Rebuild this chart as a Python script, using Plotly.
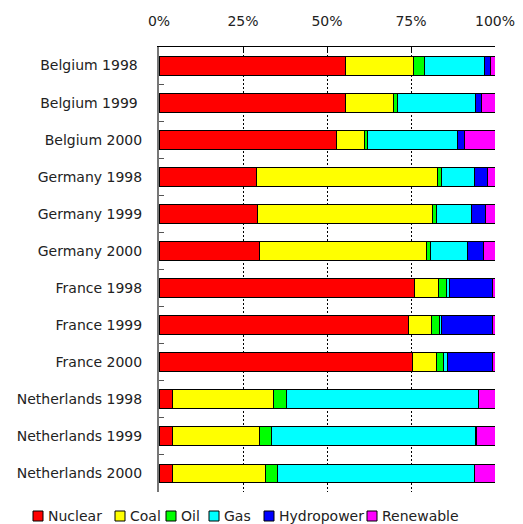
import plotly.graph_objects as go

categories = ["Belgium 1998", "Belgium 1999", "Belgium 2000",
              "Germany 1998", "Germany 1999", "Germany 2000",
              "France 1998", "France 1999", "France 2000",
              "Netherlands 1998", "Netherlands 1999", "Netherlands 2000"]
category_labels = ["Belgium 1998\u00a0", "Belgium 1999\u00a0", "Belgium 2000",
                   "Germany 1998", "Germany 1999", "Germany 2000",
                   "France 1998", "France 1999", "France 2000",
                   "Netherlands 1998", "Netherlands 1999", "Netherlands 2000"]

nuclear = [55.5, 55.5, 52.9, 29.1, 29.4, 29.8, 75.9, 74.4, 75.5, 4.1, 4.0, 4.1]
coal = [20.2, 14.2, 8.2, 53.7, 52.1, 49.9, 7.3, 6.8, 7.1, 30.0, 26.0, 27.7]
oil = [3.3, 1.2, 0.9, 1.3, 1.2, 1.1, 2.4, 2.3, 2.1, 3.9, 3.4, 3.4]
gas = [17.8, 23.4, 26.8, 9.7, 10.3, 11.1, 0.8, 0.7, 1.1, 57.0, 60.9, 58.7]
hydropower = [2.0, 1.8, 2.0, 4.0, 4.1, 4.7, 13.0, 15.2, 13.6, 0.1, 0.1, 0.1]
renewable = [1.2, 4.0, 9.2, 2.2, 2.9, 3.4, 0.6, 0.6, 0.6, 5.0, 5.7, 6.1]

series_names = ["Nuclear", "Coal", "Oil", "Gas", "Hydropower", "Renewable"]
series_values = [nuclear, coal, oil, gas, hydropower, renewable]
series_colors = ["#FF0000", "#FFFF00", "#00FF00", "#00FFFF", "#0000FF", "#FF00FF"]

tick_vals = [0, 25, 50, 75, 100]
tick_text = ["0%", "25%", "50%", "75%", "100%"]

FONT = "DejaVu Sans"

# the page body adds an 8px offset, so the figure is sized to fit the window
OFF = 8
FIG_W, FIG_H = 523 - OFF, 524 - OFF
M_L, M_R, M_T, M_B = 159 - OFF, 28, 47 - OFF, 32
plot_w = FIG_W - M_L - M_R
plot_h = FIG_H - M_T - M_B

fig = go.Figure()
for name, vals, col in zip(series_names, series_values, series_colors):
    fig.add_trace(go.Bar(
        y=categories, x=vals, name=name, orientation="h",
        marker=dict(color=col, line=dict(color="black", width=1)),
        showlegend=False,
    ))

# compact horizontal legend below the plot (page pixel positions)
legend_px = [33, 115, 166, 209, 264, 367]
legend_y = 516


def px_to_paper_x(px):
    return (px - OFF - M_L) / plot_w


def px_to_paper_y(py):
    return (FIG_H - M_B - (py - OFF)) / plot_h


shapes = []
annotations = []
for name, col, px in zip(series_names, series_colors, legend_px):
    shapes.append(dict(type="rect", xref="paper", yref="paper",
                       x0=px_to_paper_x(px), x1=px_to_paper_x(px + 10),
                       y0=px_to_paper_y(legend_y + 5), y1=px_to_paper_y(legend_y - 5),
                       fillcolor=col, line=dict(color="black", width=1)))
    annotations.append(dict(xref="paper", yref="paper",
                            x=px_to_paper_x(px + 13), y=px_to_paper_y(legend_y),
                            xanchor="left", yanchor="middle", showarrow=False,
                            text=name, font=dict(family=FONT, size=14, color="#222")))

fig.update_layout(
    barmode="stack",
    bargap=0.49,
    width=FIG_W, height=FIG_H,
    margin=dict(l=M_L, r=M_R, t=M_T, b=M_B, pad=0, autoexpand=False),
    plot_bgcolor="white", paper_bgcolor="white",
    font=dict(family=FONT, size=14, color="#222"),
    shapes=shapes,
    annotations=annotations,
    showlegend=False,
)
fig.update_xaxes(
    side="top", range=[0, 100], automargin=False,
    tickmode="array", tickvals=tick_vals, ticktext=tick_text,
    showgrid=True, gridcolor="black", griddash="2px,2px", gridwidth=1,
    showline=True, linecolor="black", linewidth=1,
    ticks="inside", ticklen=5, tickcolor="black",
    ticklabelstandoff=14,
    zeroline=False,
    tickfont=dict(family=FONT, size=14, color="#222"),
)
fig.update_yaxes(
    type="category", autorange="reversed", automargin=False,
    tickmode="array", tickvals=categories, ticktext=category_labels,
    tickson="boundaries", ticks="inside", ticklen=5, tickcolor="#555",
    showline=True, linecolor="#777", linewidth=2,
    showgrid=False,
    ticklabelstandoff=12,
    tickfont=dict(family=FONT, size=14, color="#222"),
)

fig.write_html("out.html")
